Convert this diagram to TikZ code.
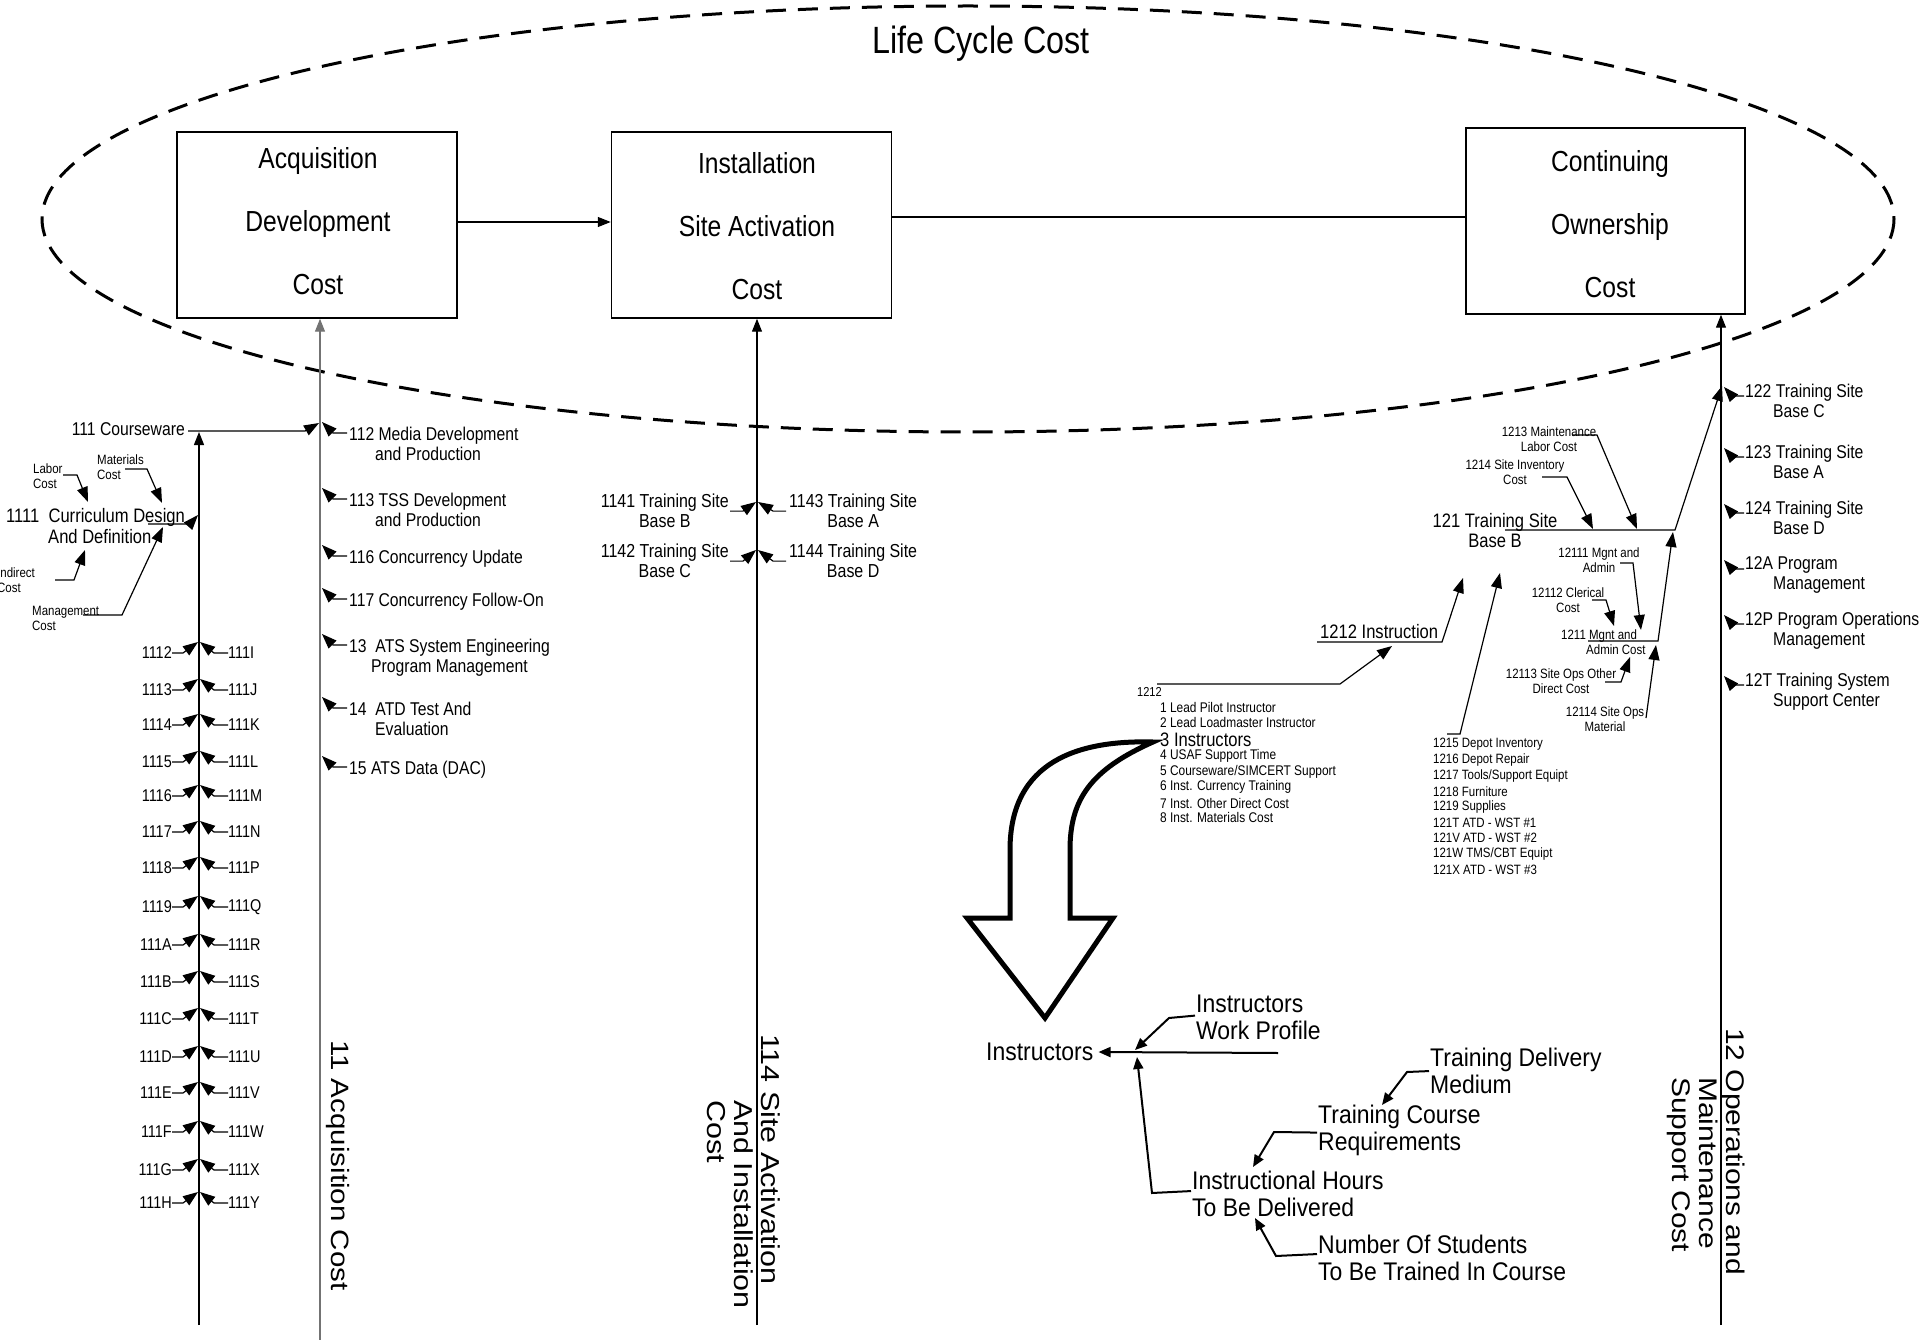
\documentclass[tikz,border=0pt]{standalone}
\usepackage{graphicx}
\usepackage{fontspec}
\setmainfont{Liberation Sans}[FakeStretch=0.85]
\newfontfamily\plainsans{Liberation Sans}
\newfontfamily\narrowsans{Liberation Sans}[FakeStretch=0.9]
\usetikzlibrary{arrows.meta}
\newcommand\fsz[2]{\fontsize{#1}{#2}\selectfont}

\tikzset{
  costbox/.style={draw, line width=1.5pt, inner sep=0pt, minimum width=280pt,
    minimum height=186pt},
  boxtext/.style={inner sep=0pt, align=center, font=\fsz{29}{63}},
  spine/.style={line width=1.3pt, -{Triangle[length=13pt,width=10pt]}},
  co/.style={line width=1.2pt, -{Triangle[length=15pt,width=11pt]}},
  cob/.style={line width=2pt, -{Triangle[length=12pt,width=10pt]}},
  lbl/.style={inner sep=0pt, align=left},
  tA/.style={lbl, font=\fsz{18.5}{20}},
  tB/.style={lbl, font=\fsz{19.5}{20.5}},
  tC/.style={lbl, font=\fsz{18.8}{20}},
  tP/.style={lbl, font=\fsz{17}{19}},
  tS/.style={lbl, font=\fsz{13.5}{15}},
  tN/.style={lbl, font={\narrowsans\fsz{25.5}{27}}},
  vlbl/.style={rotate=-90, anchor=north west, inner sep=0pt}
}

\begin{document}
\begin{tikzpicture}[x=1pt,y=-1pt]
\path[use as bounding box, fill=white] (0,0) rectangle (1923,1340);

% outer life cycle ellipse
\draw[line width=3pt, dash pattern=on 20pt off 12pt] (968,219) ellipse [x radius=926, y radius=213];
\node[inner sep=0pt, font=\fsz{38}{40}] (lcc) at (981,44) {Life Cycle Cost};

% the three cost boxes
\node[costbox] (acq) at (317,225) {};
\node[costbox] (inst) at (751.5,225) {};
\node[costbox, minimum width=279pt] (cont) at (1605.5,221) {};
\node[boxtext] (acqT) at (318,221) {Acquisition\\Development\\Cost};
\node[boxtext] (instT) at (757,226) {Installation\\Site Activation\\Cost};
\node[boxtext] (contT) at (1610,224) {Continuing\\Ownership\\Cost};
\draw[line width=1.3pt, -{Triangle[length=13pt,width=10pt]}] ([yshift=3pt]acq.east) -- ([yshift=3pt]inst.west);
\draw[line width=1.3pt] ([yshift=8pt]inst.east) -- ([yshift=4pt]cont.west);

% spines
\coordinate (cwTop) at (199,432);
\coordinate (cwBot) at (199,1325);
\coordinate (acqBot) at (320,1340);
\coordinate (siteBot) at (757,1325);
\coordinate (omBot) at (1721,1325);
\draw[spine] (cwBot) -- (cwTop);
\draw[spine, draw=black!55] (acqBot) -- (acqBot |- acq.south);
\draw[spine] (siteBot) -- (siteBot |- inst.south);
\draw[spine] (omBot) -- (omBot |- cont.south);

% vertical spine titles
\node[vlbl] (acqlbl) at (350,1040) {\scalebox{1}[0.85]{\plainsans\fsz{29.5}{31}11 Acquisition Cost}};
\node[vlbl] (sitelbl) at (780,1034) {\scalebox{1}[0.85]{\plainsans\fsz{30.5}{31.5}\begin{tabular}{@{}l@{}}114 Site Activation\\\hspace*{66pt}And Installation\\\hspace*{66pt}Cost\end{tabular}}};
\node[vlbl] (omlbl) at (1745,1028) {\scalebox{1}[0.85]{\plainsans\fsz{30}{31.5}\begin{tabular}{@{}l@{}}12 Operations and\\\hspace*{49pt}Maintenance\\\hspace*{49pt}Support Cost\end{tabular}}};

% courseware
\node[tA, anchor=east] (cw) at (185,429) {111 Courseware};
\coordinate (cwJ) at (305,431);
\coordinate (cwTip) at (319,423);
\draw[co] ([xshift=3pt,yshift=-2pt]cw.east) -- (cwJ) -- (cwTip);

\node[tB, anchor=north west, font=\fsz{19.5}{21}] (cd) at (6,508) {1111\ \ Curriculum Design\\\hspace*{42pt}And Definition};
\coordinate (cdA) at (148,524);
\coordinate (cdB) at (190,524);
\coordinate (cdTip) at (198,515);
\draw[co] (cdA) -- (cdB) -- (cdTip);

\node[tS, anchor=north west] (labor) at (33,464) {Labor\\Cost};
\node[tS, anchor=north west] (matl) at (97,455) {Materials\\Cost};
\node[tS, anchor=north west] (indir) at (-3,568) {Indirect\\Cost};
\node[tS, anchor=north west] (mgmt) at (32,606) {Management\\Cost};
\coordinate (laborA) at (63,475);  \coordinate (laborB) at (77,475);  \coordinate (laborT) at (88,502);
\coordinate (matlA) at (125,469);  \coordinate (matlB) at (147,469);  \coordinate (matlT) at (162,503);
\coordinate (indirA) at (55,580);  \coordinate (indirB) at (74,580);  \coordinate (indirT) at (85,550);
\coordinate (mgmtA) at (83,615);   \coordinate (mgmtB) at (122,615);  \coordinate (mgmtT) at (163,527);
\draw[co] (laborA) -- (laborB) -- (laborT);
\draw[co] (matlA) -- (matlB) -- (matlT);
\draw[co] (indirA) -- (indirB) -- (indirT);
\draw[co] (mgmtA) -- (mgmtB) -- (mgmtT);

% courseware element pairs
\foreach \l/\r/\y in {1112/111I/653, 1113/111J/690, 1114/111K/725, 1115/111L/762,
  1116/111M/796, 1117/111N/832, 1118/111P/868, 1119/111Q/907, 111A/111R/945,
  111B/111S/982, 111C/111T/1019, 111D/111U/1057, 111E/111V/1093, 111F/111W/1132,
  111G/111X/1170, 111H/111Y/1203}
{
  \node[tP, anchor=east] (L\l) at (172,\y) {\l};
  \node[tP, anchor=west] (R\r) at (228,\y) {\r};
  \draw[co] (L\l.east) -- ++(11,0) -- (198,\y-11);
  \draw[co] (R\r.west) -- ++(-14,0) -- (200,\y-11);
}

% acquisition cost elements
\foreach \nm/\yc/\tx in {
  a112/433/{112 Media Development\\\hspace*{26pt}and Production},
  a113/499/{113 TSS Development\\\hspace*{26pt}and Production},
  a116/556/{116 Concurrency Update},
  a117/599/{117 Concurrency Follow-On},
  a13/645/{13\ \ ATS System Engineering\\\hspace*{22pt}Program Management},
  a14/708/{14\ \ ATD Test And\\\hspace*{26pt}Evaluation},
  a15/767/{15 ATS Data (DAC)}}
{
  \node[tA, anchor=north west] (\nm) at (349,\yc-6.6) {\tx};
  \draw[co] ([xshift=-2pt,yshift=-6.6pt]\nm.north west) -- ++(-14,0) -- (322,\yc-11);
}

% site activation elements
\node[tC, align=center, anchor=north east] (s1141) at (729,494) {1141 Training Site\\Base B};
\node[tC, align=center, anchor=north west] (s1143) at (789,494) {1143 Training Site\\Base A};
\node[tC, align=center, anchor=north east] (s1142) at (729,544) {1142 Training Site\\Base C};
\node[tC, align=center, anchor=north west] (s1144) at (789,544) {1144 Training Site\\Base D};
\draw[co] ([xshift=1pt]s1141.east) -- ++(13,0) -- (756,502);
\draw[co] ([xshift=-3pt]s1143.west) -- ++(-13,0) -- (758,502);
\draw[co] ([xshift=1pt]s1142.east) -- ++(13,0) -- (756,550);
\draw[co] ([xshift=-3pt]s1144.west) -- ++(-13,0) -- (758,550);

% operations and maintenance elements
\foreach \nm/\yc/\tx in {
  o122/390/{122 Training Site\\\hspace*{28pt}Base C},
  o123/451/{123 Training Site\\\hspace*{28pt}Base A},
  o124/507/{124 Training Site\\\hspace*{28pt}Base D},
  o12A/563/{12A Program\\\hspace*{28pt}Management},
  o12P/618/{12P Program Operations\\\hspace*{28pt}Management},
  o12T/679/{12T Training System\\\hspace*{28pt}Support Center}}
{
  \node[tA, anchor=north west] (\nm) at (1745,\yc-6.6) {\tx};
  \draw[co] ([xshift=-1pt,yshift=-12.6pt]\nm.north west) -- ++(-12,0) -- (1724,\yc-3);
}

% training site base B breakdown
\node[tB, align=center, anchor=north] (n121) at (1495,513) {121 Training Site\\Base B};
\coordinate (j121L) at (1505,530);
\coordinate (j121R) at (1675,530);
\coordinate (j121T) at (1722,386);
\draw[co] (j121L) -- (j121R) -- (j121T);

\node[tS, align=center, anchor=north] (n1213) at (1549,427) {1213 Maintenance\\Labor Cost};
\node[tS, align=center, anchor=north] (n1214) at (1515,460) {1214 Site Inventory\\Cost};
\draw[co] (1572,435) -- (1597,435) -- (1637,529);
\draw[co] (1542,477) -- (1567,477) -- (1593,529);

\node[tS, align=center, anchor=north] (n12111) at (1599,548) {12111 Mgnt and\\Admin};
\node[tS, align=center, anchor=north] (n12112) at (1568,588) {12112 Clerical\\Cost};
\node[tS, anchor=north west] (n1211) at (1561,630) {1211 Mgnt and\\\hspace*{25pt}Admin Cost};
\node[tS, align=center, anchor=north] (n12113) at (1561,669) {12113 Site Ops Other\\Direct Cost};
\node[tS, align=center, anchor=north] (n12114) at (1605,707) {12114 Site Ops\\Material};
\coordinate (j1211L) at (1588,641);
\coordinate (j1211R) at (1658,641);
\coordinate (j1211T) at (1673,532);
\draw[co] (j1211L) -- (j1211R) -- (j1211T);
\draw[co] (1620,563) -- (1633,563) -- (1641,630);
\draw[co] (1592,600) -- (1606,600) -- (1614,626);
\draw[co] (1605,682) -- (1621,682) -- (1630,657);
\draw[co] (1646,718) -- (1656,645);

% instruction
\node[tB, anchor=west] (n1212i) at (1320,632) {1212 Instruction};
\coordinate (j1212L) at (1317,642);
\coordinate (j1212R) at (1442,642);
\coordinate (j1212T) at (1463,578);
\draw[co] (j1212L) -- (j1212R) -- (j1212T);

\node[lbl, font=\fsz{13}{15}, anchor=west] (n1212) at (1137,692) {1212};
\coordinate (jlistL) at (1157,684);
\coordinate (jlistR) at (1340,684);
\coordinate (jlistT) at (1392,646);
\draw[co] (jlistL) -- (jlistR) -- (jlistT);
\foreach \k/\y/\tx in {1/707/{1 Lead Pilot Instructor}, 2/722/{2 Lead Loadmaster Instructor},
  4/756/{4 USAF Support Time}, 5/772/{5 Courseware/SIMCERT Support},
  6/787/{6 Inst. Currency Training}, 7/803/{7 Inst. Other Direct Cost},
  8/817/{8 Inst. Materials Cost}}
{
  \node[lbl, font=\fsz{14}{15}, anchor=west] (ins\k) at (1160,\y) {\tx};
}
\node[lbl, font=\fsz{19.5}{20}, anchor=west] (ins3) at (1160,740) {3 Instructors};

% depot and equipment list
\foreach \k/\y/\tx in {1215/744/{1215 Depot Inventory}, 1216/760/{1216 Depot Repair},
  1217/776/{1217 Tools/Support Equipt}, 1218/792/{1218 Furniture},
  1219/807/{1219 Supplies}, 121T/823/{121T ATD - WST \#1}, 121V/838/{121V ATD - WST \#2},
  121W/854/{121W TMS/CBT Equipt}, 121X/870/{121X ATD - WST \#3}}
{
  \node[tS, anchor=west] (d\k) at (1433,\y) {\tx};
}
\coordinate (jdepA) at (1447,734);
\coordinate (jdepB) at (1460,734);
\coordinate (jdepT) at (1500,573);
\draw[co] (jdepA) -- (jdepB) -- (jdepT);

% hollow arrow from the instructors entry
\draw[line width=5pt, line join=miter, miter limit=10]
  (1153,742) .. controls (1080,740) and (1010,760) .. (1010,850) -- (1010,918)
  -- (967,918) -- (1045,1018) -- (1113,918) -- (1070,918) -- (1070,850)
  .. controls (1070,800) and (1090,770) .. (1153,742) -- cycle;

% instructors drivers
\node[tN, anchor=west] (instr) at (986,1052) {Instructors};
\coordinate (insR) at (1278,1053);
\draw[cob] (insR) -- ([xshift=5pt]instr.east);
\node[tN, anchor=north west] (wp) at (1196,995) {Instructors\\Work Profile};
\node[tN, anchor=north west] (ih) at (1192,1171) {Instructional Hours\\To Be Delivered};
\node[tN, anchor=north west] (tc) at (1318,1105) {Training Course\\Requirements};
\node[tN, anchor=north west] (td) at (1430,1048) {Training Delivery\\Medium};
\node[tN, anchor=north west] (ns) at (1318,1235) {Number Of Students\\To Be Trained In Course};
\coordinate (wpB) at (1169,1018);  \coordinate (wpT) at (1135,1050);
\coordinate (ihB) at (1152,1193);  \coordinate (ihT) at (1137,1057);
\coordinate (tcB) at (1274,1132);  \coordinate (tcT) at (1253,1167);
\coordinate (tdB) at (1407,1072);  \coordinate (tdT) at (1382,1105);
\coordinate (nsB) at (1276,1256);  \coordinate (nsT) at (1255,1218);
\draw[cob] ([xshift=-1pt,yshift=2pt]wp.west) -- (wpB) -- (wpT);
\draw[cob] ([xshift=-1pt,yshift=3pt]ih.west) -- (ihB) -- (ihT);
\draw[cob] ([xshift=-1pt,yshift=-2pt]tc.west) -- (tcB) -- (tcT);
\draw[cob] ([xshift=-1pt]td.west) -- (tdB) -- (tdT);
\draw[cob] ([xshift=-1pt,yshift=4pt]ns.west) -- (nsB) -- (nsT);
\end{tikzpicture}
\end{document}
